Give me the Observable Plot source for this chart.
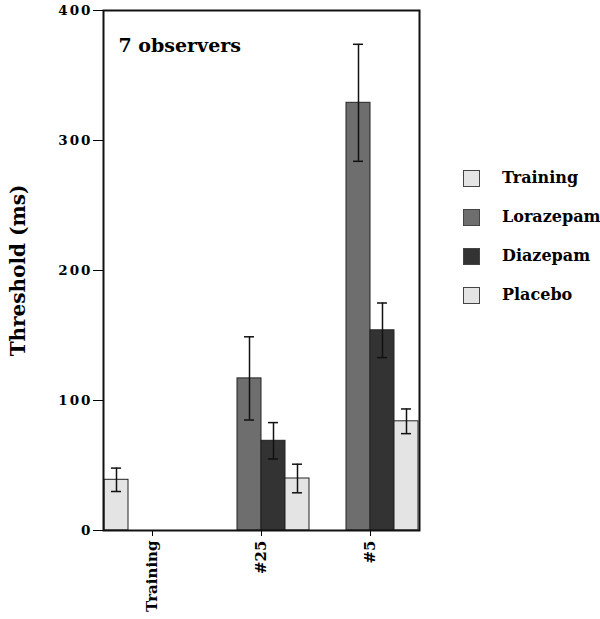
<!DOCTYPE html>
<html>
<head>
<meta charset="utf-8">
<script src="https://cdn.jsdelivr.net/npm/d3@7"></script>
<script src="https://cdn.jsdelivr.net/npm/@observablehq/plot@0.6"></script>
<style>
  html, body { margin: 0; padding: 0; background: #fff; }
  #wrap { position: relative; width: 600px; height: 619px; }
  svg { font-family: "DejaVu Serif", serif; font-weight: bold; }
  [aria-label="y-axis tick label"] text { font-size: 13.5px; letter-spacing: 2px; }
  [aria-label="fx-axis tick label"] text { font-size: 15px; }
  [aria-label="y-axis label"] text, [aria-label="y-axis label"] { font-size: 20px; }
  #legend { position: absolute; left: 463px; top: 168px; font-family: "DejaVu Serif", serif; font-weight: bold; font-size: 16px; }
  .row { position: relative; height: 39px; }
  .sw { position: absolute; left: 0; top: 2px; width: 15px; height: 15px; border: 1px solid #444; }
  .lb { position: absolute; left: 39px; top: 0; line-height: 20px; white-space: nowrap; }
</style>
</head>
<body>
<div id="wrap"><div id="legend"></div></div>
<script>
const groups = ["Training", "#25", "#5"];
const series = ["Training", "Lorazepam", "Diazepam", "Placebo"];
const colors = ["#e4e4e4", "#6e6e6e", "#333333", "#e4e4e4"];
const yTicks = [0, 100, 200, 300, 400];
const barGroup = ["Training", "#25", "#25", "#25", "#5", "#5", "#5"];
const barSeries = ["Training", "Lorazepam", "Diazepam", "Placebo", "Lorazepam", "Diazepam", "Placebo"];
const means = [39, 117, 69, 40, 329, 154, 84];
const errs = [9, 32, 14, 11, 45, 21, 9.5];
const note = "7 observers";

const data = means.map((m, i) => ({
  group: barGroup[i], series: barSeries[i], mean: m,
  lo: m - errs[i], hi: m + errs[i]
}));

const chart = Plot.plot({
  width: 600, height: 619,
  marginLeft: 98, marginRight: 175, marginTop: 10, marginBottom: 89,
  fx: { domain: groups, paddingInner: 0.1, paddingOuter: 0.05, label: null, tickRotate: -90, tickSize: 6, tickPadding: 4 },
  x: { domain: series, padding: 0, axis: null },
  y: { domain: [0, 400], ticks: yTicks, tickSize: 10, tickPadding: 1, label: "Threshold (ms)", labelAnchor: "center", labelOffset: 93, labelArrow: "none" },
  color: { domain: series, range: colors },
  marks: [
    Plot.barY(data, { fx: "group", x: "series", y: "mean", fill: "series", stroke: "#222", strokeWidth: 1 }),
    Plot.ruleX(data, { fx: "group", x: "series", y1: "lo", y2: "hi", stroke: "#111", strokeWidth: 1.5 }),
    Plot.tickY(data, { fx: "group", x: "series", y: "hi", insetLeft: 7, insetRight: 7, stroke: "#111", strokeWidth: 1.5 }),
    Plot.tickY(data, { fx: "group", x: "series", y: "lo", insetLeft: 7, insetRight: 7, stroke: "#111", strokeWidth: 1.5 }),
    Plot.text([{ group: "Training", t: note }], { fx: "group", text: "t", frameAnchor: "top-left", textAnchor: "start", dx: 15, dy: 28, fontSize: 19, fontWeight: "bold" }),
    Plot.frame({ facet: "super", stroke: "#111", strokeWidth: 2 })
  ]
});
document.getElementById("wrap").prepend(chart);

const legend = document.getElementById("legend");
series.forEach((s, i) => {
  const row = document.createElement("div");
  row.className = "row";
  const sw = document.createElement("div");
  sw.className = "sw";
  sw.style.background = colors[i];
  const lb = document.createElement("div");
  lb.className = "lb";
  lb.textContent = s;
  row.append(sw, lb);
  legend.append(row);
});
</script>
</body>
</html>
